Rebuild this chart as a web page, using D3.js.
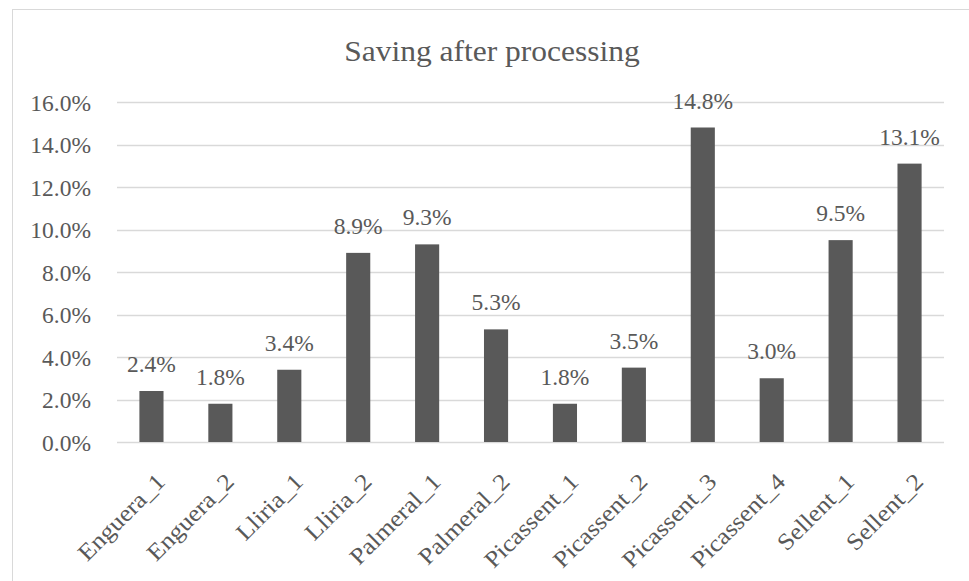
<!DOCTYPE html>
<html>
<head>
<meta charset="utf-8">
<script src="https://cdn.jsdelivr.net/npm/d3@7"></script>
<style>
  html, body { margin: 0; padding: 0; background: #fff; }
  svg { display: block; }
  text { font-family: "Liberation Serif", "DejaVu Serif", serif; fill: #595959; }
</style>
</head>
<body>
<svg id="chart" width="969" height="581"></svg>
<script>
// Sample sites and the saving (in %) obtained after processing
const categories = ["Enguera_1", "Enguera_2", "Lliria_1", "Lliria_2", "Palmeral_1", "Palmeral_2",
  "Picassent_1", "Picassent_2", "Picassent_3", "Picassent_4", "Sellent_1", "Sellent_2"];
const savings = [2.4, 1.8, 3.4, 8.9, 9.3, 5.3, 1.8, 3.5, 14.8, 3.0, 9.5, 13.1];
const yTicks = [0, 2, 4, 6, 8, 10, 12, 14, 16];
const title = "Saving after processing";

const W = 969, H = 581;
const margin = { left: 117, right: 25, top: 102, bottom: 139 };
const labelSize = 23.5;          // px, axis and value labels
const wide = "scale(1.1,1)";     // widen letter glyphs a little
const pct = d => d3.format(".1f")(d) + "%";

const svg = d3.select("#chart");

// chart frame
svg.append("rect")
  .attr("x", 12.5).attr("y", 9.5)
  .attr("width", 1000).attr("height", 1000)
  .attr("fill", "none").attr("stroke", "#d9d9d9").attr("stroke-width", 1);

const x = d3.scaleBand()
  .domain(categories)
  .range([margin.left, W - margin.right])
  .paddingInner(0.65).paddingOuter(0.325);

const y = d3.scaleLinear()
  .domain([0, 16])
  .range([H - margin.bottom, margin.top]);

// horizontal gridlines
svg.append("g")
  .selectAll("line")
  .data(yTicks)
  .join("line")
  .attr("x1", margin.left).attr("x2", W - margin.right)
  .attr("y1", d => Math.round(y(d)) + 0.5).attr("y2", d => Math.round(y(d)) + 0.5)
  .attr("stroke", "#d9d9d9").attr("stroke-width", 1.3);

// y axis labels
const yAxis = d3.axisLeft(y).tickValues(yTicks).tickSize(0).tickPadding(0).tickFormat(pct);
const gy = svg.append("g").attr("transform", "translate(91,0)").call(yAxis);
gy.select(".domain").remove();
gy.selectAll("text")
  .attr("font-family", "Liberation Serif, serif")
  .attr("font-size", labelSize)
  .attr("fill", "#595959")
  .attr("x", 0).attr("dy", "0.34em");

// bars
svg.append("g")
  .selectAll("rect")
  .data(savings)
  .join("rect")
  .attr("x", (d, i) => x(categories[i]))
  .attr("y", d => y(d))
  .attr("width", x.bandwidth())
  .attr("height", d => y(0) - y(d))
  .attr("fill", "#595959");

// value labels above bars
svg.append("g")
  .selectAll("text")
  .data(savings)
  .join("text")
  .attr("x", (d, i) => x(categories[i]) + x.bandwidth() / 2)
  .attr("y", d => y(d) - 19)
  .attr("text-anchor", "middle")
  .attr("font-size", labelSize)
  .text(pct);

// rotated category labels
const xAxis = d3.axisBottom(x).tickSize(0).tickPadding(0);
const gx = svg.append("g").attr("transform", `translate(0,${y(0)})`).call(xAxis);
gx.select(".domain").remove();
gx.selectAll("text")
  .attr("font-family", "Liberation Serif, serif")
  .attr("font-size", labelSize)
  .attr("fill", "#595959")
  .attr("text-anchor", "end")
  .attr("dy", 0).attr("y", 0)
  .attr("transform", "translate(15,41) rotate(-45) " + wide);

// title
svg.append("g")
  .attr("transform", "translate(492,60.5)")
  .append("text")
  .attr("text-anchor", "middle")
  .attr("font-size", 30)
  .attr("transform", "scale(1.05,1)")
  .text(title);
</script>
</body>
</html>
